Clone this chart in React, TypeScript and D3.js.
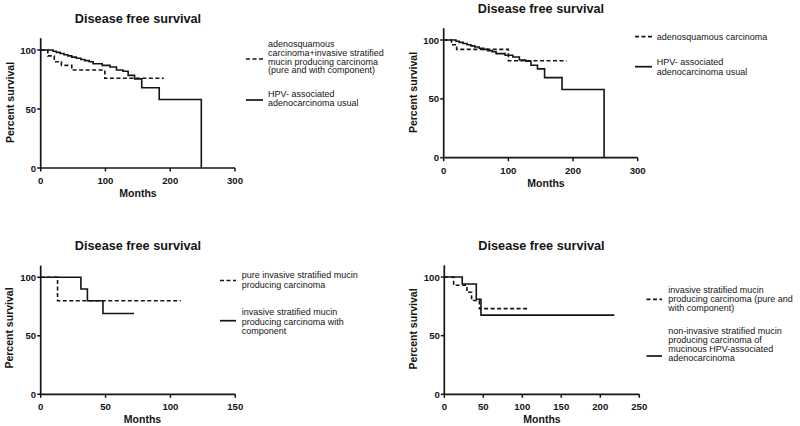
import React from "react";
import * as d3 from "d3";

// ---------- data ----------
const titleText = "Disease free survival";
const xLabel = "Months";
const yLabel = "Percent survival";
const yTicks = [0, 50, 100];

// HPV-associated adenocarcinoma usual (panels 1 & 2)
const hpvUsualTimes = [0, 19, 24, 30, 36, 42, 48, 55, 62, 68, 75, 81, 95, 107, 117, 127, 135, 145, 156, 183, 248];
const hpvUsualSurv = [100, 99, 98, 97, 96, 95, 94, 93, 92, 91, 90, 88.4, 87, 85.6, 83, 82, 78.5, 75.5, 68, 58, 0];

// adenosquamous + ISMC (panel 1)
const adenoIsmcTimes = [0, 11, 21, 32, 48, 99, 190];
const adenoIsmcSurv = [100, 95, 90, 87, 83, 76, 76];

// adenosquamous carcinoma (panel 2)
const adenoTimes = [0, 12, 20, 100, 190];
const adenoSurv = [100, 96, 92, 82.4, 82.4];

// pure ISMC (panel 3)
const pureIsmcTimes = [0, 13, 108];
const pureIsmcSurv = [100, 80, 80];

// ISMC with component (panel 3)
const ismcCompTimes = [0, 31, 36, 48, 72];
const ismcCompSurv = [100, 90, 80, 69, 69];

// ISMC pure and with component (panel 4)
const ismcAllTimes = [0, 12, 29, 35, 45, 108];
const ismcAllSurv = [100, 93, 87, 80, 73, 73];

// non-invasive SMC of mucinous HPV-associated adenocarcinoma (panel 4)
const nonInvTimes = [0, 23, 41, 47, 218];
const nonInvSurv = [100, 94, 81, 67.5, 67.5];

const xTicks1 = [0, 100, 200, 300];
const xTicks3 = [0, 50, 100, 150];
const xTicks4 = [0, 50, 100, 150, 200, 250];

const legend1 = [
  ["adenosquamous", "carcinoma+invasive stratified", "mucin producing carcinoma", "(pure and with component)"],
  ["HPV- associated", "adenocarcinoma usual"],
];
const legend2 = [["adenosquamous carcinoma"], ["HPV- associated", "adenocarcinoma usual"]];
const legend3 = [
  ["pure invasive stratified mucin", "producing carcinoma"],
  ["invasive stratified mucin", "producing carcinoma with", "component"],
];
const legend4 = [
  ["invasive stratified mucin", "producing carcinoma (pure and", "with component)"],
  ["non-invasive stratified mucin", "producing carcinoma of", "mucinous HPV-associated", "adenocarcinoma"],
];

// ---------- drawing ----------
const FONT = "'Liberation Sans', Arial, Helvetica, sans-serif";
const INK = "#141414";
const DASH = "4,2.5";

type Curve = { times: number[]; surv: number[]; dashed: boolean };
type LegendItem = { lines: string[]; dashed: boolean; sampleY: number; textY0: number };

type PanelProps = {
  xPx: [number, number];
  xMax: number;
  xTicks: number[];
  yPx0: number;
  yPx100: number;
  titlePos: [number, number];
  monthsPos: [number, number];
  yLabelPos: [number, number];
  curves: Curve[];
  legend: LegendItem[];
  sampleX: [number, number];
  textX: number;
  lineStep: number;
};

function Panel(p: PanelProps) {
  const x = d3.scaleLinear().domain([0, p.xMax]).range(p.xPx);
  const y = d3.scaleLinear().domain([0, 100]).range([p.yPx0, p.yPx100]);
  const line = d3
    .line<[number, number]>()
    .x((d) => x(d[0]))
    .y((d) => y(d[1]))
    .curve(d3.curveStepAfter);
  const x0 = x(0);
  const y0 = y(0);
  return (
    <g fontFamily={FONT} fill={INK}>
      <text x={p.titlePos[0]} y={p.titlePos[1]} textAnchor="middle" dominantBaseline="central" fontWeight="bold" fontSize={12.7}>
        {titleText}
      </text>
      {/* axes */}
      <line x1={x0} x2={x0} y1={y(110)} y2={y0} stroke={INK} strokeWidth={1.7} />
      <line x1={x0} x2={x(p.xMax)} y1={y0} y2={y0} stroke={INK} strokeWidth={1.7} />
      {yTicks.map((t) => (
        <g key={"y" + t}>
          <line x1={x0 - 3.5} x2={x0} y1={y(t)} y2={y(t)} stroke={INK} strokeWidth={1.5} />
          <text x={x0 - 4.5} y={y(t)} textAnchor="end" dominantBaseline="central" fontWeight="bold" fontSize={9.6}>
            {t}
          </text>
        </g>
      ))}
      {p.xTicks.map((t) => (
        <g key={"x" + t}>
          <line x1={x(t)} x2={x(t)} y1={y0} y2={y0 + 3.5} stroke={INK} strokeWidth={1.5} />
          <text x={x(t)} y={y0 + 12.3} textAnchor="middle" dominantBaseline="central" fontWeight="bold" fontSize={9.6}>
            {t}
          </text>
        </g>
      ))}
      <text x={p.monthsPos[0]} y={p.monthsPos[1]} textAnchor="middle" dominantBaseline="central" fontWeight="bold" fontSize={10.5}>
        {xLabel}
      </text>
      <text
        transform={`translate(${p.yLabelPos[0]},${p.yLabelPos[1]}) rotate(-90)`}
        textAnchor="middle"
        dominantBaseline="central"
        fontWeight="bold"
        fontSize={10.5}
      >
        {yLabel}
      </text>
      {/* curves */}
      {p.curves.map((c, i) => (
        <path
          key={i}
          d={line(c.times.map((t, k) => [t, c.surv[k]] as [number, number])) || ""}
          fill="none"
          stroke={INK}
          strokeWidth={1.6}
          strokeDasharray={c.dashed ? DASH : undefined}
        />
      ))}
      {/* legend */}
      {p.legend.map((it, i) => (
        <g key={"l" + i}>
          <line
            x1={p.sampleX[0]}
            x2={p.sampleX[1]}
            y1={it.sampleY}
            y2={it.sampleY}
            stroke={INK}
            strokeWidth={1.7}
            strokeDasharray={it.dashed ? DASH : undefined}
          />
          {it.lines.map((s, k) => (
            <text key={k} x={p.textX} y={it.textY0 + k * p.lineStep} dominantBaseline="central" fontSize={9}>
              {s}
            </text>
          ))}
        </g>
      ))}
    </g>
  );
}

export default function App() {
  return (
    <svg width={800} height={426} style={{ position: "absolute", left: 0, top: 0, background: "#fff" }}>
      <rect width={800} height={426} fill="#fff" />
      <Panel
        xPx={[40.7, 235]}
        xMax={300}
        xTicks={xTicks1}
        yPx0={168}
        yPx100={50}
        titlePos={[138, 19]}
        monthsPos={[138, 193]}
        yLabelPos={[9.5, 102.5]}
        curves={[
          { times: adenoIsmcTimes, surv: adenoIsmcSurv, dashed: true },
          { times: hpvUsualTimes, surv: hpvUsualSurv, dashed: false },
        ]}
        legend={[
          { lines: legend1[0], dashed: true, sampleY: 59, textY0: 44 },
          { lines: legend1[1], dashed: false, sampleY: 100, textY0: 94 },
        ]}
        sampleX={[246, 263]}
        textX={268}
        lineStep={8.8}
      />
      <Panel
        xPx={[443.7, 637.7]}
        xMax={300}
        xTicks={xTicks1}
        yPx0={157.7}
        yPx100={40}
        titlePos={[541, 9]}
        monthsPos={[546, 182.7]}
        yLabelPos={[412.5, 92.5]}
        curves={[
          { times: adenoTimes, surv: adenoSurv, dashed: true },
          { times: hpvUsualTimes, surv: hpvUsualSurv, dashed: false },
        ]}
        legend={[
          { lines: legend2[0], dashed: true, sampleY: 36.7, textY0: 36.7 },
          { lines: legend2[1], dashed: false, sampleY: 66.7, textY0: 62.3 },
        ]}
        sampleX={[635, 652]}
        textX={656.7}
        lineStep={9.4}
      />
      <Panel
        xPx={[40.7, 235.3]}
        xMax={150}
        xTicks={xTicks3}
        yPx0={394.3}
        yPx100={277.3}
        titlePos={[138, 245.7]}
        monthsPos={[142.5, 419.3]}
        yLabelPos={[9, 328]}
        curves={[
          { times: pureIsmcTimes, surv: pureIsmcSurv, dashed: true },
          { times: ismcCompTimes, surv: ismcCompSurv, dashed: false },
        ]}
        legend={[
          { lines: legend3[0], dashed: true, sampleY: 280.5, textY0: 275 },
          { lines: legend3[1], dashed: false, sampleY: 320.7, textY0: 311.7 },
        ]}
        sampleX={[220, 236]}
        textX={241.7}
        lineStep={9.8}
      />
      <Panel
        xPx={[444.3, 639.3]}
        xMax={250}
        xTicks={xTicks4}
        yPx0={394.3}
        yPx100={277}
        titlePos={[541.5, 245.7]}
        monthsPos={[542, 419.3]}
        yLabelPos={[412.5, 329]}
        curves={[
          { times: ismcAllTimes, surv: ismcAllSurv, dashed: true },
          { times: nonInvTimes, surv: nonInvSurv, dashed: false },
        ]}
        legend={[
          { lines: legend4[0], dashed: true, sampleY: 299.3, textY0: 290 },
          { lines: legend4[1], dashed: false, sampleY: 356, textY0: 331 },
        ]}
        sampleX={[646.5, 662]}
        textX={668.3}
        lineStep={9}
      />
    </svg>
  );
}
